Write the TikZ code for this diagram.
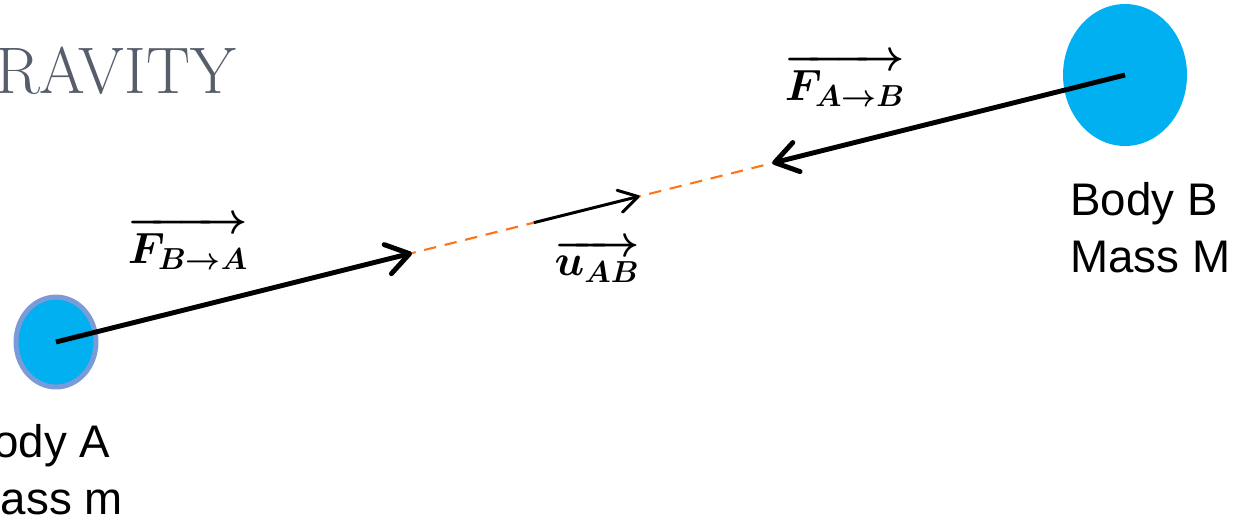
\documentclass[tikz,border=0pt]{standalone}
\usepackage{amsmath}
\usepackage{fontspec}
\setsansfont{Liberation Sans}
\usepackage{tikz}
\usetikzlibrary{arrows.meta,shapes.geometric,calc}
\definecolor{bodyfill}{HTML}{00B0F0}
\definecolor{bodyline}{HTML}{7B9BD8}
\definecolor{dashorange}{HTML}{FF7418}
\definecolor{titlegray}{HTML}{565E6B}

\begin{document}
\begin{tikzpicture}[x=0.02cm, y=-0.02cm,
  body/.style={ellipse, fill=bodyfill, inner sep=0pt},
  bodytext/.style={font=\sffamily\fontsize{26}{32.5}\selectfont, align=left, inner sep=0pt},
  force/.style={-{Straight Barb[length=0.45cm, width=0.6cm, round]}, line width=2.8pt},
  unitarrow/.style={-{Straight Barb[length=0.38cm, width=0.45cm, round]}, line width=1.7pt},
  centreline/.style={dash pattern=on 7pt off 5pt, dashorange, line width=1.2pt},
  vectxt/.style={font=\fontsize{26}{28}\selectfont\boldmath, inner sep=0pt}
]
\useasboundingbox (0,0) rectangle (1239,518);
\clip (0,0) rectangle (1239,518);

\node[font=\fontsize{37.5}{40}\selectfont, text=titlegray, inner sep=0pt, anchor=base east] (title) at (236,93) {GRAVITY};

\node[body, draw=bodyline, line width=2.8pt, minimum width=1.6cm, minimum height=1.8cm] (bodyA) at (56,342) {};
\node[body, minimum width=2.48cm, minimum height=2.84cm] (bodyB) at (1125,75) {};

\node[bodytext, anchor=north east] (textA) at (123,424) {Body A\\Mass m};
\node[bodytext, anchor=north west] (textB) at (1070,182) {Body B\\Mass M};

\coordinate (tipBA) at ($(bodyA.center)!0.333!(bodyB.center)$);
\coordinate (uStart) at ($(bodyA.center)!0.447!(bodyB.center)$);
\coordinate (uTip) at ($(bodyA.center)!0.546!(bodyB.center)$);
\coordinate (tipAB) at ($(bodyA.center)!0.670!(bodyB.center)$);

\draw[centreline] (bodyA.center) -- (bodyB.center);
\draw[force] (bodyA.center) -- (tipBA);
\draw[force] (bodyB.center) -- (tipAB);
\draw[unitarrow] (uStart) -- (uTip);

\node[vectxt] (fBA) at (188,243) {$\overrightarrow{F_{B\to A}}$};
\node[vectxt] (fAB) at (845,80) {$\overrightarrow{F_{A\to B}}$};
\node[vectxt] (uAB) at (597,261) {$\overrightarrow{u_{AB}}$};

\end{tikzpicture}
\end{document}
